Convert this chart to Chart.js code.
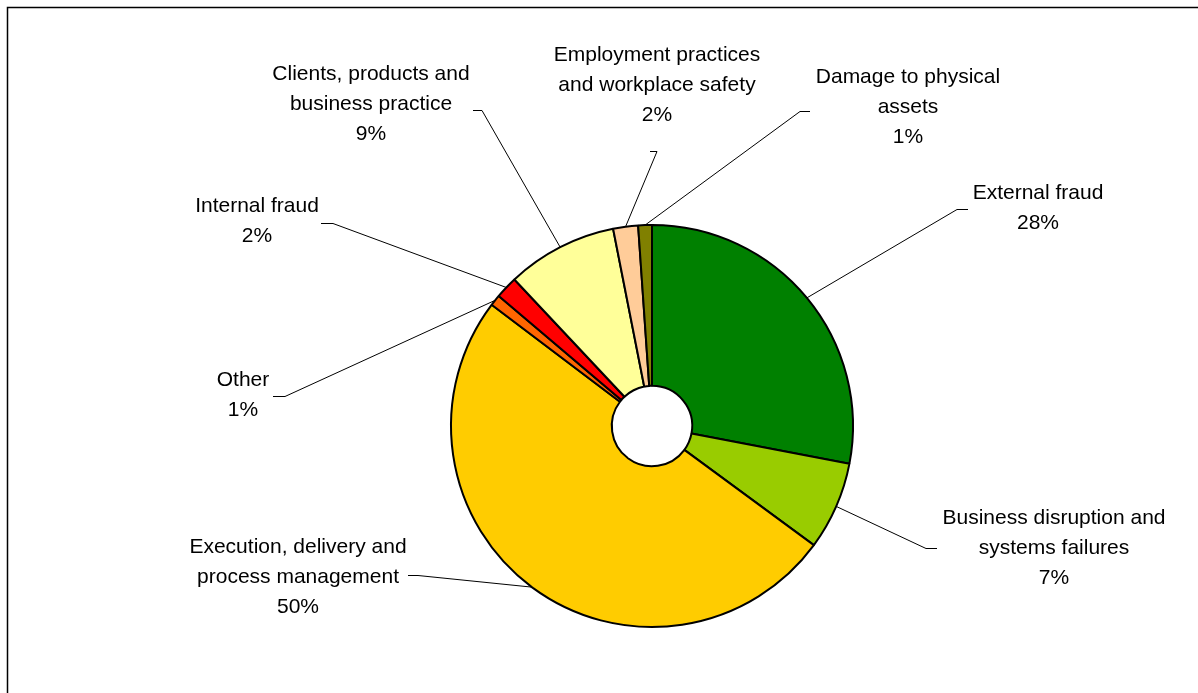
<!DOCTYPE html>
<html>
<head>
<meta charset="utf-8">
<script src="https://cdn.jsdelivr.net/npm/chart.js@4.4.0/dist/chart.umd.min.js"></script>
<style>
  html, body { margin: 0; padding: 0; background: #fff; }
  #wrap { width: 1198px; height: 693px; position: relative; }
</style>
</head>
<body>
<div id="wrap"><canvas id="chart1"></canvas></div>
<script>
// data, clockwise from 12 o'clock
const categories = [
  ['External fraud'],
  ['Business disruption and', 'systems failures'],
  ['Execution, delivery and', 'process management'],
  ['Other'],
  ['Internal fraud'],
  ['Clients, products and', 'business practice'],
  ['Employment practices', 'and workplace safety'],
  ['Damage to physical', 'assets']
];
const values = [28.0, 7.1, 50.2, 0.9, 1.8, 8.9, 2.0, 1.1];
const colors = ['#008000', '#99CC00', '#FFCC00', '#FF6600', '#FF0000', '#FFFF99', '#FFCC99', '#808000'];

// label layout: text centre x, first line y, elbow of leader, end of short tick
const labelX = [1038, 1054, 298, 243, 257, 371, 657, 908];
const labelY = [193, 518, 547, 380, 206, 74, 55, 77];
const elbow = [[957, 209], [926, 548], [418, 575], [285, 396], [333, 223], [482, 110], [657, 151], [800, 111]];
const tickEnd = [[968, 209], [937, 548], [408, 575], [273, 396], [321, 223], [473, 110], [650, 151], [810, 111]];

const total = values.reduce((acc, val) => acc + val, 0);

const frame = {
  id: 'frame',
  beforeDraw(chart) {
    const c = chart.ctx;
    c.save();
    c.strokeStyle = '#000';
    c.lineWidth = 1.5;
    c.beginPath();
    c.moveTo(7.5, 700);
    c.lineTo(7.5, 7.5);
    c.lineTo(1205, 7.5);
    c.stroke();
    c.restore();
  }
};

const pieLabels = {
  id: 'pieLabels',
  afterDraw(chart) {
    const c = chart.ctx;
    const arcs = chart.getDatasetMeta(0).data;
    c.save();
    arcs.forEach((arc, i) => {
      const mid = (arc.startAngle + arc.endAngle) / 2;
      const ex = arc.x + Math.cos(mid) * arc.outerRadius;
      const ey = arc.y + Math.sin(mid) * arc.outerRadius;
      c.strokeStyle = '#000';
      c.lineWidth = 1;
      c.beginPath();
      c.moveTo(ex, ey);
      c.lineTo(elbow[i][0], elbow[i][1] + 0.5);
      c.lineTo(tickEnd[i][0], tickEnd[i][1] + 0.5);
      c.stroke();

      const lines = categories[i].concat([Math.round(values[i] / total * 100) + '%']);
      c.fillStyle = '#000';
      c.font = '21px "Liberation Sans", Arial, sans-serif';
      c.textAlign = 'center';
      c.textBaseline = 'middle';
      lines.forEach((t, k) => {
        c.fillText(t, labelX[i], labelY[i] + k * 30);
      });
    });
    c.restore();
  }
};

const ctx = document.getElementById('chart1').getContext('2d');
const myChart = new Chart(ctx, {
  type: 'doughnut',
  data: {
    labels: categories.map(l => l.join(' ')),
    datasets: [{
      data: values,
      backgroundColor: colors,
      borderColor: '#000',
      borderWidth: 2
    }]
  },
  options: {
    responsive: true,
    maintainAspectRatio: false,
    animation: false,
    cutout: '20%',
    layout: {
      padding: { left: 251, right: 145, top: 224, bottom: 65 }
    },
    plugins: {
      legend: { display: false },
      tooltip: { enabled: false }
    }
  },
  plugins: [frame, pieLabels]
});
</script>
</body>
</html>
